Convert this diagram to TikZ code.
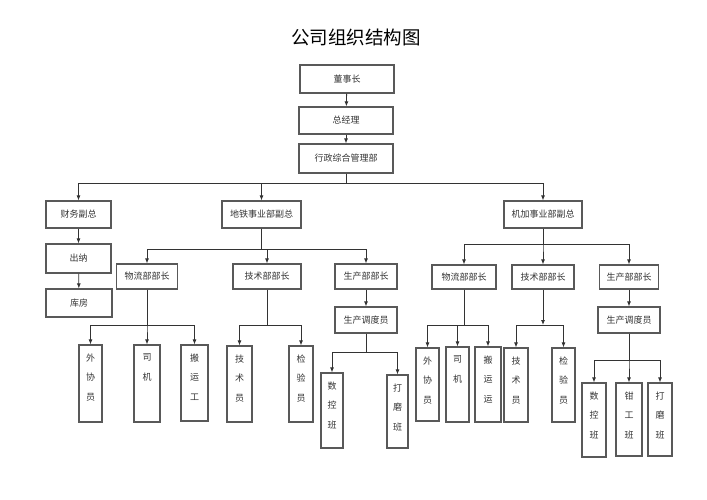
\documentclass[tikz,border=0pt]{standalone}
\usepackage{fontspec}
\setmainfont{Noto Sans CJK SC}
\usetikzlibrary{arrows.meta}
\begin{document}
\begin{tikzpicture}[x=1pt,y=-1pt,
  box/.style={draw=black!65,line width=1.25pt,inner sep=0,font=\fontsize{9}{11}\selectfont,text=black!80},
  vbox/.style={box,label={[anchor=north,align=center,inner sep=0,yshift=-9pt,font=\fontsize{9}{19.5}\selectfont,text=black!80]north:#1}},
  arr/.style={draw=black!80,line width=0.8pt,-{Latex[length=5pt,width=4pt]}},
  bus/.style={draw=black!80,line width=0.8pt}]
\useasboundingbox (0,0) rectangle (707,500);

\node[font=\fontsize{18.5}{20}\selectfont] (title) at (356,37) {公司组织结构图};

% top of the tree
\node[box,minimum width=94,minimum height=28] (chair) at (347,79) {董事长};
\node[box,minimum width=94,minimum height=27] (gm) at (346,120.5) {总经理};
\node[box,minimum width=94,minimum height=29] (admin) at (346,158.5) {行政综合管理部};
\node[box,minimum width=65,minimum height=27] (fin) at (78.5,214.5) {财务副总};
\node[box,minimum width=65,minimum height=29] (cash) at (78.5,258.5) {出纳};
\node[box,minimum width=66,minimum height=28] (store) at (79,303) {库房};
\node[box,minimum width=79,minimum height=27] (subway) at (261.5,214.5) {地铁事业部副总};
\node[box,minimum width=78,minimum height=27] (mach) at (543,214.5) {机加事业部副总};

% department heads
\node[box,minimum width=61,minimum height=25] (logL) at (147,276.5) {物流部部长};
\node[box,minimum width=68,minimum height=25] (techL) at (267,276.5) {技术部部长};
\node[box,minimum width=62,minimum height=25] (prodL) at (366,276.5) {生产部部长};
\node[box,minimum width=62,minimum height=26] (dispL) at (366,320) {生产调度员};
\node[box,minimum width=64,minimum height=24] (logR) at (464,277) {物流部部长};
\node[box,minimum width=62,minimum height=24] (techR) at (543,277) {技术部部长};
\node[box,minimum width=59,minimum height=24] (prodR) at (629,277) {生产部部长};
\node[box,minimum width=62,minimum height=26] (dispR) at (629,320) {生产调度员};

% staff, written top to bottom
\foreach \nm/\xx/\yy/\ww/\hh/\txt in {
  wxL/90.5/383.5/23/77/{外\\协\\员}, sjL/147/383.5/26/77/{司\\机},
  byL/194.5/383/27/76/{搬\\运\\工}, jsyL/239.5/384/25/76/{技\\术\\员},
  jyyL/301/384/24/76/{检\\验\\员}, skL/332/410.5/22/75/{数\\控\\班},
  dmL/397.5/411.5/21/73/{打\\磨\\班}, wxR/427.5/384.5/23/73/{外\\协\\员},
  sjR/457.5/384.5/23/75/{司\\机}, byR/488/384.5/26/75/{搬\\运\\运},
  jsyR/516/385/24/74/{技\\术\\员}, jyyR/563.5/385/23/74/{检\\验\\员},
  skR/594/420/24/74/{数\\控\\班}, qgR/629/419.5/26/73/{钳\\工\\班},
  dmR/660/419.5/24/73/{打\\磨\\班}}
  \node[vbox=\txt,minimum width=\ww,minimum height=\hh] (\nm) at (\xx,\yy) {};

\coordinate (bus0) at (0,183);
\coordinate (busA) at (0,249);
\coordinate (busB) at (0,244);
\coordinate (busC) at (0,325);
\coordinate (busD) at (0,352);
\coordinate (busE) at (0,360);

\draw[arr] (chair) -- (gm);
\draw[arr] (gm) -- (admin);
\foreach \c in {fin,subway,mach}
  \draw[arr] (admin.south) -- (admin.south |- bus0) -| (\c.north);
\draw[arr] (fin) -- (cash);
\draw[arr] (cash) -- (store);

\foreach \c in {logL,techL,prodL}
  \draw[arr] (subway.south) -- (subway.south |- busA) -| (\c.north);
\foreach \c in {logR,techR,prodR}
  \draw[arr] (mach.south) -- (mach.south |- busB) -| (\c.north);
\draw[arr] (prodL) -- (dispL);
\draw[arr] (prodR) -- (dispR);

\foreach \c in {wxL,sjL,byL}
  \draw[arr] (logL.south) -- (logL.south |- busC) -| (\c.north);
\foreach \c in {jsyL,jyyL}
  \draw[arr] (techL.south) -- (techL.south |- busC) -| (\c.north);
\foreach \c in {skL,dmL}
  \draw[arr] (dispL.south) -- (dispL.south |- busD) -| (\c.north);
\foreach \c in {wxR,sjR,byR}
  \draw[arr] (logR.south) -- (logR.south |- busC) -| (\c.north);
\draw[arr] (techR.south) -- (techR.south |- busC);
\foreach \c in {jsyR,jyyR}
  \draw[arr] (techR.south |- busC) -| (\c.north);
\foreach \c in {skR,qgR,dmR}
  \draw[arr] (dispR.south) -- (dispR.south |- busE) -| (\c.north);

\end{tikzpicture}
\end{document}
